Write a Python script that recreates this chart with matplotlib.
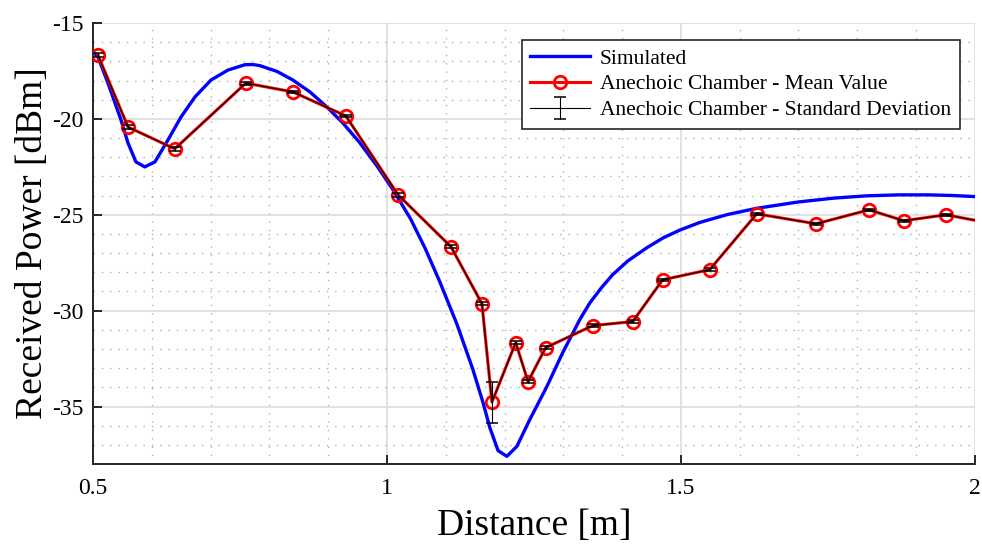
import numpy as np
import matplotlib
matplotlib.use("Agg")
import matplotlib.pyplot as plt
from matplotlib.ticker import MultipleLocator

# =========================
# DATA
# =========================

sim_dist = [0.500, 0.5085, 0.5255, 0.5476, 0.5595, 0.573, 0.588, 0.6054,
            0.6276, 0.6497, 0.6735, 0.7007, 0.7296, 0.7585, 0.772, 0.784,
            0.813, 0.840, 0.869, 0.898, 0.925, 0.954, 0.983, 1.010, 1.040,
            1.065, 1.090, 1.119, 1.146, 1.163, 1.175, 1.189, 1.204, 1.221,
            1.243, 1.272, 1.299, 1.328, 1.345, 1.365, 1.384, 1.410, 1.442,
            1.470, 1.498, 1.532, 1.580, 1.629, 1.700, 1.760, 1.816, 1.870,
            1.920, 1.960, 2.000]
sim_power = [-16.50, -16.77, -18.13, -20.05, -21.25, -22.24, -22.50, -22.24,
             -21.09, -19.90, -18.85, -17.97, -17.45, -17.17, -17.16, -17.22,
             -17.52, -17.97, -18.59, -19.38, -20.21, -21.25, -22.45, -23.68,
             -25.20, -26.75, -28.50, -30.70, -33.05, -34.75, -36.10, -37.30,
             -37.60, -37.08, -35.68, -33.96, -32.19, -30.47, -29.60, -28.80,
             -28.12, -27.40, -26.72, -26.20, -25.80, -25.40, -24.98, -24.66,
             -24.33, -24.13, -24.01, -23.96, -23.96, -23.99, -24.05]

meas_dist = [0.5085, 0.5595, 0.639, 0.760, 0.840, 0.930, 1.019, 1.109,
             1.1616, 1.1786, 1.219, 1.240, 1.270, 1.350, 1.418, 1.469,
             1.549, 1.629, 1.730, 1.820, 1.879, 1.951, 2.020]
meas_mean = [-16.67, -20.42, -21.56, -18.13, -18.59, -19.84, -23.96, -26.67,
             -29.64, -34.77, -31.67, -33.70, -31.93, -30.78, -30.57, -28.39,
             -27.86, -24.95, -25.47, -24.74, -25.31, -25.00, -25.40]
meas_std = [0.10, 0.10, 0.12, 0.08, 0.06, 0.06, 0.10, 0.07,
            0.08, 1.07, 0.08, 0.10, 0.07, 0.06, 0.07, 0.06,
            0.08, 0.07, 0.06, 0.06, 0.06, 0.05, 0.05]

x_ticks = [0.5, 1, 1.5, 2]
x_tick_labels = ["0.5", "1", "1.5", "2"]
y_ticks = [-35, -30, -25, -20, -15]
y_tick_labels = ["-35", "-30", "-25", "-20", "-15"]

# =========================
# PLOT
# =========================

plt.rcParams["font.family"] = ["Liberation Serif", "DejaVu Serif"]

fig = plt.figure(figsize=(9.82, 5.45), dpi=100)
ax = fig.add_axes([0.0947, 0.1486, 0.898, 0.809])

ax.plot(sim_dist, sim_power, color="blue", lw=2.4, label="Simulated", zorder=3)
ax.plot(meas_dist, meas_mean, "o-", color="red", lw=2.2, ms=9,
        mfc="none", mec="red", mew=2.0,
        label="Anechoic Chamber - Mean Value", zorder=4)
ax.errorbar(meas_dist, meas_mean, yerr=meas_std, color="black", lw=0.8,
            elinewidth=0.8, capsize=4.6, capthick=1.1,
            label="Anechoic Chamber - Standard Deviation", zorder=5)

ax.set_xlim(0.5, 2)
ax.set_ylim(-38, -15)

ax.set_xticks(x_ticks)
ax.set_xticklabels(x_tick_labels)
ax.set_yticks(y_ticks)
ax.set_yticklabels(y_tick_labels)
ax.xaxis.set_minor_locator(MultipleLocator(0.1))
ax.yaxis.set_minor_locator(MultipleLocator(1))

ax.grid(which="major", color="#dcdcdc", lw=1.2, ls="-", zorder=0)
ax.grid(which="minor", color="#b0b0b0", lw=1.0, ls=(0, (1, 5)), zorder=0)
ax.set_axisbelow(True)

ax.tick_params(which="major", direction="in", length=6.7, width=1.4,
               labelsize=17, color="#262626", pad=7)
ax.tick_params(which="minor", length=0)
ax.tick_params(axis="x", pad=10)

for side in ["top", "right"]:
    ax.spines[side].set_visible(False)
for side in ["left", "bottom"]:
    ax.spines[side].set_color("#262626")
    ax.spines[side].set_linewidth(1.4)

ax.set_xlabel("Distance [m]", fontsize=27, labelpad=7)
ax.set_ylabel("Received Power [dBm]", fontsize=27, labelpad=1)

leg = ax.legend(loc="upper right", bbox_to_anchor=(0.983, 0.962),
                fontsize=15.5, frameon=True, fancybox=False,
                borderpad=0.4, labelspacing=0.27, handlelength=2.8,
                handletextpad=0.45, borderaxespad=0.0)
leg.get_frame().set_edgecolor("#262626")
leg.get_frame().set_linewidth(1.2)
leg.get_frame().set_alpha(1.0)

fig.savefig("out.png", dpi=100)
